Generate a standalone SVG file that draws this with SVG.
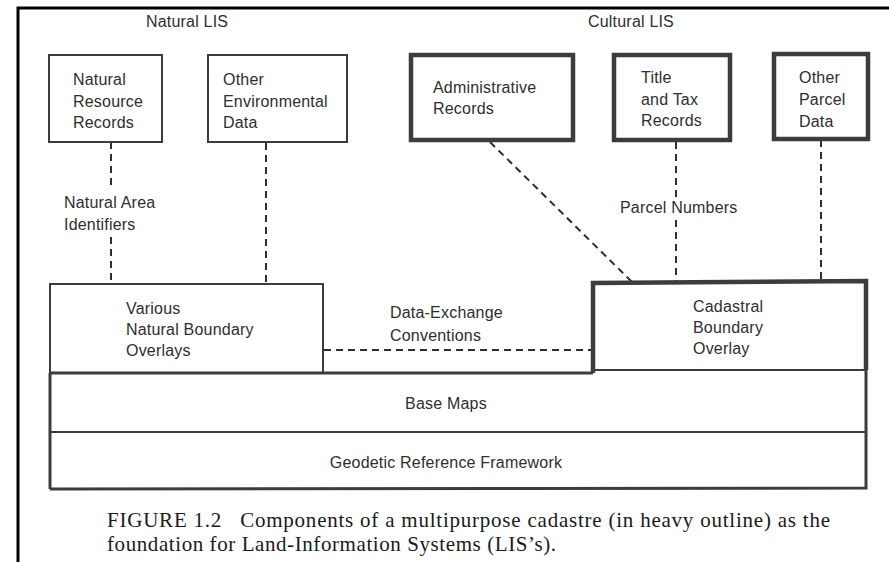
<svg xmlns="http://www.w3.org/2000/svg" width="889" height="562" viewBox="0 0 889 562">
  <style>
    .bg { fill: #ffffff; }
    .frame { stroke: #000000; stroke-width: 3; fill: none; }
    .thin { fill: #ffffff; stroke: #3c3c3c; stroke-width: 2; }
    .heavy { fill: #ffffff; stroke: #3c3c3c; stroke-width: 4.5; }
    .band { fill: none; stroke: #3c3c3c; stroke-width: 3; }
    .rule { fill: none; stroke: #3c3c3c; stroke-width: 2; }
    .dash { fill: none; stroke: #2e2e2e; stroke-width: 2; stroke-dasharray: 7 5; }
    text { font-family: "Liberation Sans", Arial, sans-serif; font-size: 16px; fill: #2e2e2e; letter-spacing: 0.2px; }
    .mid { text-anchor: middle; }
    .cap { font-family: "Liberation Serif", "Times New Roman", serif; font-size: 21px; fill: #1a1a1a; letter-spacing: 0; }
  </style>

  <rect class="bg" x="0" y="0" width="889" height="562"/>

  <!-- page frame -->
  <path class="frame" d="M18,562 V8 H889"/>

  <!-- group headings -->
  <text x="146" y="27" letter-spacing="0.9">Natural LIS</text>
  <text x="588" y="27" letter-spacing="0.9">Cultural LIS</text>

  <!-- connectors -->
  <g id="connectors">
    <path class="dash" d="M111,142 V190"/>
    <path class="dash" d="M111,237 V284"/>
    <path class="dash" d="M266,143 V284"/>
    <path class="dash" d="M490,142 L632,282"/>
    <path class="dash" d="M676,142 V198"/>
    <path class="dash" d="M676,220 V282"/>
    <path class="dash" d="M821,140 V281"/>
    <path class="dash" d="M324,350 H592"/>
    <text x="64" y="208">Natural Area</text>
    <text x="64" y="230">Identifiers</text>
    <text x="620" y="213">Parcel Numbers</text>
    <text x="390" y="318">Data-Exchange</text>
    <text x="390" y="341">Conventions</text>
  </g>

  <!-- natural LIS sources -->
  <g id="natural-resource-records">
    <rect class="thin" x="49" y="55" width="113" height="87"/>
    <text x="73" y="85">Natural</text>
    <text x="73" y="107">Resource</text>
    <text x="73" y="128">Records</text>
  </g>
  <g id="other-environmental-data">
    <rect class="thin" x="208" y="55" width="139" height="87"/>
    <text x="223" y="85">Other</text>
    <text x="223" y="107">Environmental</text>
    <text x="223" y="128">Data</text>
  </g>

  <!-- cultural LIS sources (heavy outline) -->
  <g id="administrative-records">
    <rect class="heavy" x="411" y="55" width="162" height="85"/>
    <text x="433" y="93">Administrative</text>
    <text x="433" y="114">Records</text>
  </g>
  <g id="title-and-tax-records">
    <rect class="heavy" x="614" y="55" width="116" height="85"/>
    <text x="641" y="83">Title</text>
    <text x="641" y="105">and Tax</text>
    <text x="641" y="126">Records</text>
  </g>
  <g id="other-parcel-data">
    <rect class="heavy" x="774" y="54" width="94" height="85"/>
    <text x="799" y="83">Other</text>
    <text x="799" y="105">Parcel</text>
    <text x="799" y="127">Data</text>
  </g>

  <!-- overlays -->
  <g id="natural-boundary-overlays">
    <path class="rule" d="M50,373 V284 H323 V373"/>
    <text x="126" y="314">Various</text>
    <text x="126" y="335">Natural Boundary</text>
    <text x="126" y="356">Overlays</text>
  </g>
  <g id="cadastral-boundary-overlay">
    <path class="heavy" fill="none" d="M593,373 V283 L866,281 V370"/>
    <path class="rule" d="M593,370 H866"/>
    <text x="693" y="312">Cadastral</text>
    <text x="693" y="333">Boundary</text>
    <text x="693" y="354">Overlay</text>
  </g>

  <!-- base layers -->
  <g id="base-maps">
    <path class="band" d="M50,373 H593"/>
    <path class="band" d="M50,373 V432"/>
    <path class="band" d="M866,370 V432"/>
    <text class="mid" x="446" y="409">Base Maps</text>
  </g>
  <g id="geodetic-reference-framework">
    <path class="rule" d="M50,432 H866"/>
    <path class="band" d="M50,432 V489"/>
    <path class="band" d="M866,432 V488 L50,489"/>
    <text class="mid" x="446" y="468">Geodetic Reference Framework</text>
  </g>

  <!-- caption -->
  <text class="cap" x="107" y="527" textLength="723" lengthAdjust="spacing" xml:space="preserve">FIGURE 1.2   Components of a multipurpose cadastre (in heavy outline) as the</text>
  <text class="cap" x="107" y="551" textLength="449" lengthAdjust="spacing">foundation for Land-Information Systems (LIS’s).</text>
</svg>
